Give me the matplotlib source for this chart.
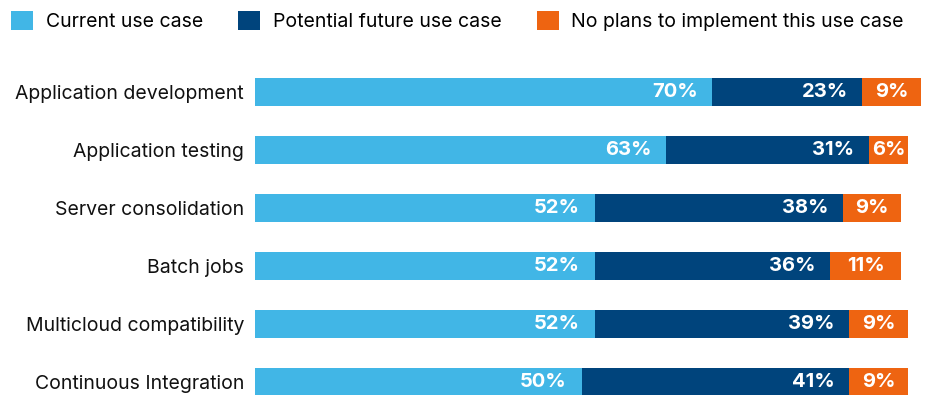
import matplotlib.pyplot as plt
from matplotlib.patches import Patch

categories = ["Application development", "Application testing", "Server consolidation",
              "Batch jobs", "Multicloud compatibility", "Continuous Integration"]
current = [70, 63, 52, 52, 52, 50]
future = [23, 31, 38, 36, 39, 41]
no_plans = [9, 6, 9, 11, 9, 9]
series_names = ["Current use case", "Potential future use case", "No plans to implement this use case"]
colors = ["#41b6e6", "#00447c", "#ee6411"]

plt.rcParams['font.family'] = ['Inter', 'DejaVu Sans']

fig = plt.figure(figsize=(9.28, 3.95), dpi=100)
W, H = 928, 395
ax = fig.add_axes([255 / W, 0, (W - 255) / W, 335 / H])

px_per_pct = 6.53
ax.set_xlim(0, (W - 255) / px_per_pct)
ax.set_ylim(5 + 13 / 58, -32 / 58)

y = list(range(len(categories)))
left = [0] * len(categories)
for si, (vals, col) in enumerate(zip([current, future, no_plans], colors)):
    ax.barh(y, vals, left=left, height=0.49, color=col, edgecolor='none')
    for yi, v, l in zip(y, vals, left):
        if si < 2:
            ax.annotate(f"{v}%", (l + v, yi), xytext=(-10.5, 0), textcoords='offset points',
                        ha='right', va='center', color='white', fontsize=14.5, fontweight='bold')
        else:
            ax.text(l + v / 2, yi, f"{v}%", ha='center', va='center', color='white',
                    fontsize=14.5, fontweight='bold')
    left = [a + b for a, b in zip(left, vals)]

ax.set_yticks(y)
ax.set_yticklabels(categories, fontsize=14)
ax.tick_params(axis='y', length=0, pad=8, colors='#111111')
ax.set_xticks([])
for s in ax.spines.values():
    s.set_visible(False)

handles = [Patch(facecolor=c, edgecolor='none') for c in colors]
fig.legend(handles, series_names, loc='upper left', bbox_to_anchor=(11 / W, 1 - 11 / H), ncol=3,
           frameon=False, fontsize=14, handlelength=1.15, handleheight=1.15,
           handletextpad=0.64, columnspacing=1.8, borderpad=0, borderaxespad=0)

fig.savefig("out.png", dpi=100)
